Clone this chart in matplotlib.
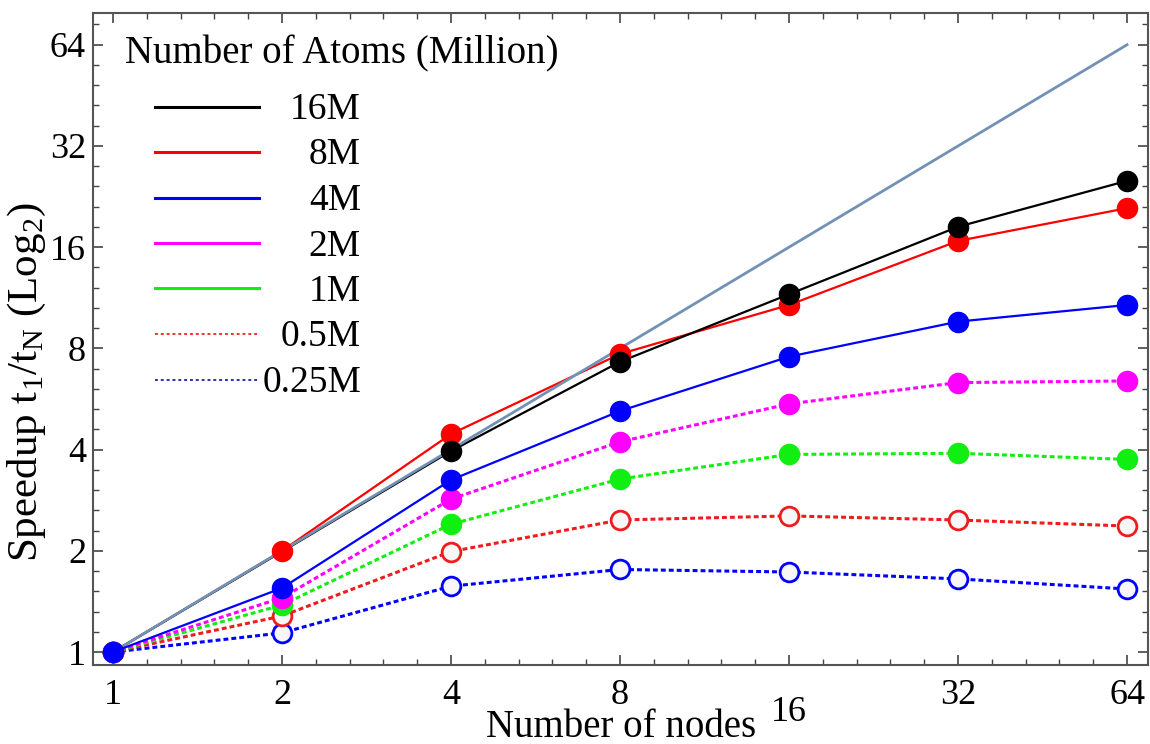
import matplotlib
matplotlib.use("Agg")
import matplotlib.pyplot as plt
from matplotlib.lines import Line2D
from matplotlib.ticker import FixedLocator, NullFormatter
from matplotlib.transforms import ScaledTranslation

plt.rcParams['font.family'] = ['Liberation Serif', 'DejaVu Serif']
plt.rcParams['mathtext.fontset'] = 'custom'
plt.rcParams['mathtext.rm'] = 'Liberation Serif'

# ---- data ----
nodes = [1, 2, 4, 8, 16, 32, 64]
nodes_16m = [1, 4, 8, 16, 32, 64]
speed_16m = [1, 3.96, 7.3, 11.59, 18.4, 25.2]
speed_8m = [1, 2.0, 4.45, 7.70, 10.77, 16.7, 20.9]
speed_4m = [1, 1.55, 3.25, 5.21, 7.56, 9.61, 10.77]
speed_2m = [1, 1.45, 2.85, 4.22, 5.47, 6.33, 6.40]
speed_1m = [1, 1.38, 2.40, 3.27, 3.87, 3.90, 3.74]
speed_05m = [1, 1.28, 1.99, 2.47, 2.54, 2.47, 2.37]
speed_025m = [1, 1.14, 1.57, 1.76, 1.73, 1.65, 1.54]
ideal = [1, 2, 4, 8, 16, 32, 64]
labels = ['16M', '8M', '4M', '2M', '1M', '0.5M', '0.25M']
tick_vals = [1, 2, 4, 8, 16, 32, 64]
tick_labels = ['1', '2', '4', '8', '16', '32', '64']

W, H = 1150, 744
fig = plt.figure(figsize=(W / 100, H / 100), dpi=100)
ax = fig.add_axes([0.0809, 0.1062, 0.9174, 0.8768])
ax.set_xscale('log', base=2)
ax.set_yscale('log', base=2)

ms = 14.5
dot = (0, (1.6, 1.0))
mfc_open = '#f7f7f7'

# ideal line
ax.plot(nodes, ideal, color='#7391b5', lw=2.0, zorder=2.6)
# 8M and 16M: lines below ideal line, markers above
ax.plot(nodes, speed_8m, color='#ff0000', lw=1.6, zorder=2.5)
ax.plot(nodes, speed_8m, color='#ff0000', ls='none', marker='o', ms=ms, zorder=3)
ax.plot(nodes_16m, speed_16m, color='black', lw=1.6, zorder=2.5)
ax.plot(nodes_16m, speed_16m, color='black', ls='none', marker='o', ms=ms, zorder=3.1)
ax.plot(nodes, speed_025m, color='#0000ff', lw=2.2, ls=dot, marker='o', ms=ms - 1,
        mfc=mfc_open, mec='#0000ff', mew=2.0, zorder=3.2)
ax.plot(nodes, speed_05m, color='#ee1c1c', lw=2.2, ls=dot, marker='o', ms=ms - 1,
        mfc=mfc_open, mec='#ee1c1c', mew=2.0, zorder=3.3)
ax.plot(nodes, speed_1m, color='#11ee11', lw=2.2, ls=dot, marker='o', ms=ms, zorder=3.4)
ax.plot(nodes, speed_2m, color='#ff00ff', lw=2.2, ls=dot, marker='o', ms=ms, zorder=3.5)
ax.plot(nodes, speed_4m, color='#0000ff', lw=1.6, marker='o', ms=ms, zorder=3.6)

ax.set_xlim(2 ** -0.118, 2 ** 6.124)
ax.set_ylim(2 ** -0.128, 2 ** 6.317)

minor = [2 ** (k / 5) for k in range(-5, 36) if k % 5 != 0]
for axis in (ax.xaxis, ax.yaxis):
    axis.set_major_locator(FixedLocator(tick_vals))
    axis.set_minor_locator(FixedLocator(minor))
    axis.set_minor_formatter(NullFormatter())
ax.set_xticklabels(tick_labels)
ax.set_yticklabels(tick_labels)
ax.tick_params(which='both', direction='in', top=True, right=True, color='#444444')
ax.tick_params(which='major', length=7, width=1.2)
ax.tick_params(which='minor', length=4, width=1.0)
ax.tick_params(axis='x', labelsize=26, pad=10)
ax.tick_params(axis='y', labelsize=26, pad=5)
for s in ax.spines.values():
    s.set_color('#555555')
    s.set_linewidth(1.5)

# the "16" tick label sits lower in the reference
t16 = ax.xaxis.get_major_ticks()[4].label1
t16.set_transform(t16.get_transform() + ScaledTranslation(0, -12 / 72, fig.dpi_scale_trans))

ax.set_xlabel('Number of nodes', fontsize=28)
ax.xaxis.set_label_coords(0.5005, -0.068)
ax.set_ylabel(r'Speedup t$_\mathregular{1}$/t$_\mathregular{N}$ (Log$_\mathregular{2}$)', fontsize=31)
ax.yaxis.set_label_coords(-0.043, 0.434)

# legend (drawn manually so labels are right-aligned as in the reference)
fig.text(125 / W, 1 - 63.3 / H, 'Number of Atoms (Million)', fontsize=28,
         ha='left', va='baseline')
handle_styles = [
    dict(color='black', lw=2.2),
    dict(color='#ff0000', lw=2.2),
    dict(color='#0000ff', lw=2.2),
    dict(color='#ff00ff', lw=2.2),
    dict(color='#11ee11', lw=2.2),
    dict(color='#ee3333', lw=1.4, ls=(0, (1.5, 1.5))),
    dict(color='#3030b0', lw=1.4, ls=(0, (1.5, 1.5))),
]
row0, step = 106.5, 45.5
for i, (lab, st) in enumerate(zip(labels, handle_styles)):
    yl = row0 + step * i
    fig.add_artist(Line2D([155 / W, 259 / W], [1 - yl / H, 1 - yl / H], **st))
    fig.text(361 / W, 1 - (yl + 12.5) / H, lab, fontsize=27, ha='right', va='baseline')

fig.savefig('out.png', dpi=100)
